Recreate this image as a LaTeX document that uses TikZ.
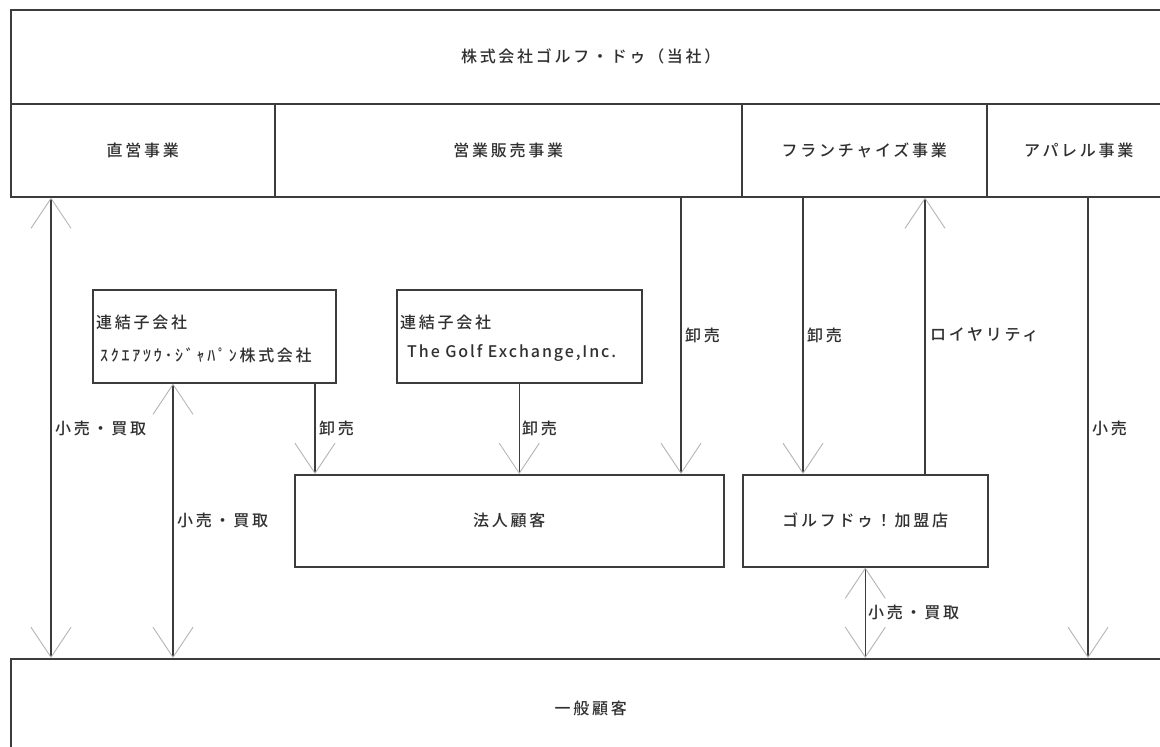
\documentclass[tikz,border=0pt]{standalone}
\usepackage{fontspec}
\setmainfont{Noto Sans CJK JP}[UprightFont={* Medium},LetterSpace=17]
\newfontfamily\latinjp{Noto Sans CJK JP}[UprightFont={* Medium},LetterSpace=12]
\usetikzlibrary{arrows.meta}
\definecolor{linec}{HTML}{3C3C3C}
\definecolor{tipc}{HTML}{B4B4B4}
\definecolor{txtc}{HTML}{303030}
\tikzset{
  vtip/.tip={Straight Barb[length=30pt,width=40pt,color=tipc,line width=0.9pt]},
  box/.style={draw=linec, line width=1.5pt, inner sep=0pt, anchor=north west, text=txtc, font=\fontsize{16}{18}\selectfont},
  lbl/.style={anchor=west, inner sep=0pt, text=txtc, font=\fontsize{16}{18}\selectfont},
  conn/.style={draw=linec, line width=1.5pt},
  down/.style={conn,-vtip},
  up/.style={conn,vtip-},
  both/.style={conn,vtip-vtip}
}
\begin{document}
\begin{tikzpicture}[x=1pt,y=-1pt]
\useasboundingbox (0,0) rectangle (1160,747);
\fill[white] (0,0) rectangle (1160,747);
% top company and divisions
\node[box, minimum width=1160pt, minimum height=94pt] (co) at (10,9) {株式会社ゴルフ・ドゥ（当社）};
\node[box, minimum width=264pt, minimum height=93pt] (dir) at (10,103) {直営事業};
\node[box, minimum width=467pt, minimum height=93pt] (sales) at (274,103) {営業販売事業};
\node[box, minimum width=245pt, minimum height=93pt] (fc) at (741,103) {フランチャイズ事業};
\node[box, minimum width=184pt, minimum height=93pt] (app) at (986,103) {アパレル事業};
% subsidiaries
\node[box, minimum width=243pt, minimum height=93pt] (sq) at (92,289) {};
\node[lbl] (sqa) at (96,322) {連結子会社};
\node[lbl] (sqb) at (100,355) {ｽｸｴｱﾂｳ･ｼﾞｬﾊﾟﾝ株式会社};
\node[box, minimum width=245pt, minimum height=93pt] (gx) at (396,289) {};
\node[lbl] (gxa) at (400,322) {連結子会社};
\node[lbl, font={\latinjp\fontsize{16}{18}\selectfont}] (gxb) at (407,353) {The Golf Exchange,Inc.};
% customers
\node[box, minimum width=429pt, minimum height=92pt] (corp) at (294,474) {法人顧客};
\node[box, minimum width=245pt, minimum height=92pt] (fra) at (742,474) {ゴルフドゥ！加盟店};
\node[box, minimum width=1160pt, minimum height=100pt] (gen) at (10,658) {一般顧客};
% connector x positions
\coordinate (c1) at (51,0);
\coordinate (c2) at (173,0);
\coordinate (c3) at (315,0);
\coordinate (c5) at (681,0);
\coordinate (c6) at (803,0);
\coordinate (c7) at (925,0);
\coordinate (c9) at (1088,0);
% connectors
\draw[both] (dir.south -| c1) -- (gen.north -| c1);
\draw[both] (sq.south -| c2) -- (gen.north -| c2);
\draw[down] (sq.south -| c3) -- (corp.north -| c3);
\draw[down] (gx.south) -- (corp.north -| gx.south);
\draw[down] (sales.south -| c5) -- (corp.north -| c5);
\draw[down] (fc.south -| c6) -- (fra.north -| c6);
\draw[up] (fc.south -| c7) -- (fra.north -| c7);
\draw[both] (fra.south) -- (gen.north -| fra.south);
\draw[down] (app.south -| c9) -- (gen.north -| c9);
% labels
\node[lbl] (l1) at (55,428) {小売・買取};
\node[lbl] (l2) at (177,520) {小売・買取};
\node[lbl] (l3) at (319,428) {卸売};
\node[lbl] (l4) at (522,428) {卸売};
\node[lbl] (l5) at (685,335) {卸売};
\node[lbl] (l6) at (807,335) {卸売};
\node[lbl] (l7) at (930,335) {ロイヤリティ};
\node[lbl] (l8) at (868,612) {小売・買取};
\node[lbl] (l9) at (1092,428) {小売};
\end{tikzpicture}
\end{document}
